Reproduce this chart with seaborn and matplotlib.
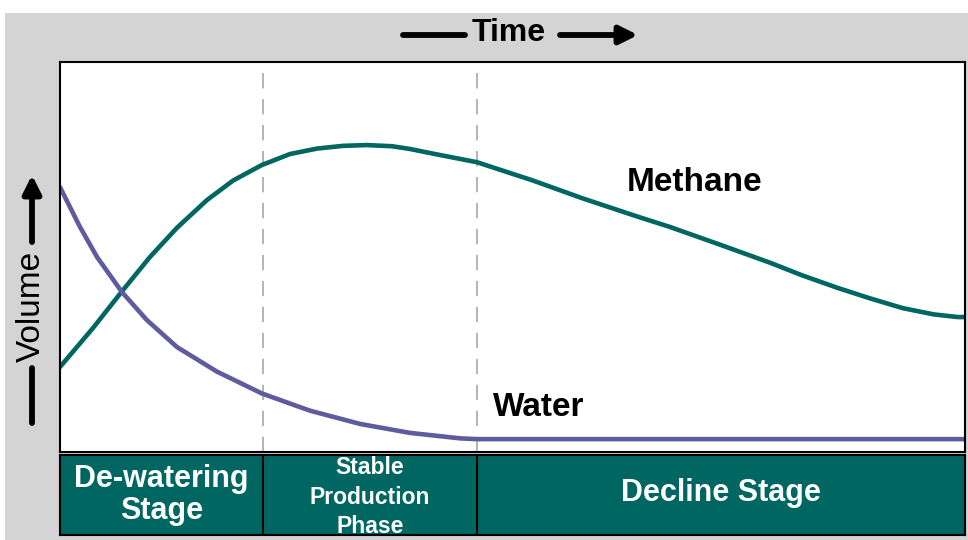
import numpy as np
import pandas as pd
import matplotlib
matplotlib.use("Agg")
import matplotlib.pyplot as plt
import seaborn as sns
from matplotlib.patches import Rectangle

# ---- data (time and volume on 0-100 relative scales) ----
methane_t = [0, 3.65, 6.85, 9.94, 12.93, 16.24, 19.12, 22.32, 25.41, 28.40, 31.27, 33.9,
             36.69, 38.67, 41.22, 46.08, 52.27, 57.79, 63.76, 67.40, 73.0, 78.5, 82.0,
             85.9, 89.5, 93.1, 96.5, 99.2, 100]
methane_v = [21.8, 31.8, 41.2, 50.0, 57.5, 64.6, 69.6, 73.6, 76.4, 77.8, 78.5, 78.7,
             78.4, 77.7, 76.5, 74.3, 69.6, 65.0, 60.4, 57.7, 53.1, 48.5, 45.3,
             42.1, 39.4, 36.9, 35.3, 34.6, 34.6]
water_t = [0, 2.21, 4.09, 6.85, 9.61, 12.93, 17.35, 22.32, 27.62, 33.15, 38.67, 44.2,
           46.08, 100]
water_v = [67.9, 57.7, 50.0, 41.0, 33.8, 26.9, 20.6, 15.0, 10.6, 7.2, 4.9, 3.5,
           3.3, 3.3]
stage_edges = [0, 22.4, 46.1, 100]
stage_labels = ["De-watering\nStage", "Stable\nProduction\nPhase", "Decline Stage"]

TEAL = "#006661"
PURPLE = "#5f5b9f"

sns.set_theme(style="white")
plt.rcParams["font.family"] = ["Liberation Sans", "DejaVu Sans"]

W, H = 968, 540
fig = plt.figure(figsize=(W / 100, H / 100), dpi=100)
fig.patch.set_facecolor("white")
fig.add_artist(Rectangle((5 / W, 0), 1 - 5 / W, 1 - 13 / H, transform=fig.transFigure,
                         facecolor="#d4d4d4", edgecolor="none", zorder=0))

ax = fig.add_axes([60 / W, 1 - 452 / H, 905 / W, 390 / H])
ax.set_facecolor("white")

df = pd.concat([
    pd.DataFrame({"t": methane_t, "v": methane_v, "s": "Methane"}),
    pd.DataFrame({"t": water_t, "v": water_v, "s": "Water"}),
])
sns.lineplot(data=df, x="t", y="v", hue="s", palette={"Methane": TEAL, "Water": PURPLE},
             sort=False, estimator=None, linewidth=3.3, legend=False, ax=ax)
for ln in ax.lines:
    ln.set_solid_joinstyle("round")

for e in stage_edges[1:-1]:
    ax.axvline(e, color="#a0a0a0", lw=1.1, linestyle=(0, (10, 7)), zorder=1)

ax.set_xlim(0, 100)
ax.set_ylim(0, 100)
ax.set_xticks([])
ax.set_yticks([])
ax.set_xlabel("")
ax.set_ylabel("")
for sp in ax.spines.values():
    sp.set_color("black")
    sp.set_linewidth(1.5)

ax.text(70.1, 69.2, "Methane", fontsize=24, fontweight="bold", color="black",
        ha="center", va="center")
ax.text(52.9, 11.5, "Water", fontsize=24, fontweight="bold", color="black",
        ha="center", va="center")

# ---- stage band ----
bax = fig.add_axes([60 / W, 5 / H, 905 / W, 80 / H])
bax.set_xlim(0, 100)
bax.set_ylim(0, 1)
bax.set_xticks([])
bax.set_yticks([])
for i in range(len(stage_labels)):
    bax.axvspan(stage_edges[i], stage_edges[i + 1], color=TEAL, zorder=0)
    if i > 0:
        bax.axvline(stage_edges[i], color="black", lw=1.5)
for sp in bax.spines.values():
    sp.set_color("black")
    sp.set_linewidth(1.5)

bax.text(11.2, 0.5, stage_labels[0], fontsize=22, fontweight="bold", color="white",
         ha="center", va="center", linespacing=1.12)
bax.text(34.25, 0.475, stage_labels[1], fontsize=16.5, fontweight="bold", color="white",
         ha="center", va="center", linespacing=1.36)
bax.text(73.05, 0.525, stage_labels[2], fontsize=22, fontweight="bold", color="white",
         ha="center", va="center")

# ---- Time header ----
fig.text(509 / W, 1 - 33 / H, "Time", fontsize=23, fontweight="bold", ha="center",
         va="center", color="black")
fig.add_artist(plt.Line2D([403 / W, 465 / W], [1 - 35 / H] * 2, color="black", lw=4.2,
                          transform=fig.transFigure))
ax.annotate("", xy=(638 / W, 1 - 35 / H), xytext=(560 / W, 1 - 35 / H),
            xycoords="figure fraction", textcoords="figure fraction",
            arrowprops=dict(arrowstyle="-|>,head_length=0.9,head_width=0.45", lw=4.2,
                            color="black", shrinkA=0, shrinkB=0))

# ---- Volume label ----
fig.text(31 / W, 1 - 306 / H, "Volume", fontsize=24, rotation=90, ha="center",
         va="center", color="black")
ax.annotate("", xy=(32 / W, 1 - 175 / H), xytext=(32 / W, 1 - 242 / H),
            xycoords="figure fraction", textcoords="figure fraction",
            arrowprops=dict(arrowstyle="-|>,head_length=0.9,head_width=0.45", lw=4.2,
                            color="black", shrinkA=0, shrinkB=0))
fig.add_artist(plt.Line2D([32 / W, 32 / W], [1 - 368 / H, 1 - 423 / H], color="black",
                          lw=4.2, transform=fig.transFigure))

fig.savefig("out.png", dpi=100)
